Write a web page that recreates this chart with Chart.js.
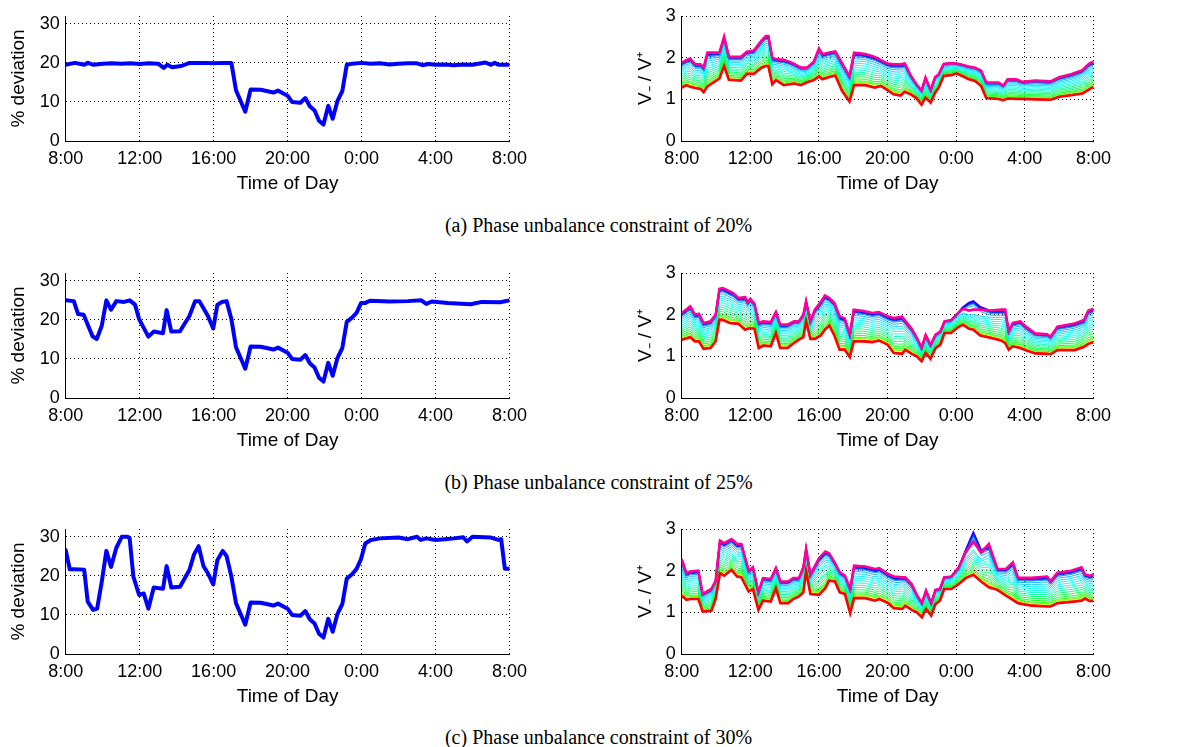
<!DOCTYPE html>
<html><head><meta charset="utf-8">
<script src="https://cdn.jsdelivr.net/npm/chart.js@4.4.1/dist/chart.umd.min.js"></script>
<style>
body{margin:0;background:#fff;}
#wrap{position:relative;width:1197px;height:747px;overflow:hidden;background:#fff;}
#wrap canvas{position:absolute;}
.cap{position:absolute;left:0;width:1197px;text-align:center;font-family:'Liberation Serif','Times New Roman',serif;font-size:20px;color:#000;line-height:22px;}
</style></head><body><div id="wrap">
<div class="cap" style="top:214px">(a) Phase unbalance constraint of 20%</div>
<div class="cap" style="top:471px">(b) Phase unbalance constraint of 25%</div>
<div class="cap" style="top:726px">(c) Phase unbalance constraint of 30%</div>
</div>
<script>
// ---------- tick labels ----------
const devTicks = [0, 10, 20, 30];
const ratioTicks = [0, 1, 2, 3];
const hourTicks = [0, 4, 8, 12, 16, 20, 24];          // hours after 8:00
const hourLabels = ['8:00', '12:00', '16:00', '20:00', '0:00', '4:00', '8:00'];
const xTitle = 'Time of Day';
const devTitle = '% deviation';
const ratioTitle = 'V\u208B / V\u207A';

// ---------- left panels: % deviation (hours after 8:00, value) ----------
const devA_t = [0,0.5,1,1.2,1.5,2,2.5,3,3.5,4,4.5,5,5.3,5.5,5.75,6.25,6.7,7.5,8,8.5,8.96,9.21,9.71,10.0,10.55,11.23,11.48,11.8,12.0,12.24,12.69,12.96,13.2,13.46,13.7,13.94,14.2,14.44,14.7,14.96,15.2,15.5,16,16.5,17,17.5,18,18.5,19,19.3,19.6,20,20.5,21,21.5,22,22.7,23,23.2,23.4,24];
const devA_v = [19.5,20.0,19.5,20.0,19.5,19.8,19.9,19.8,19.9,19.7,19.9,19.8,18.7,19.5,18.9,19.2,20.0,20.0,19.9,20.0,20.0,13.0,7.5,13.2,13.1,12.4,12.9,12.1,11.6,10.0,9.8,11.0,8.9,7.8,5.2,4.2,9.0,5.7,10.3,12.8,19.5,19.8,20.0,19.8,19.9,19.6,19.8,19.9,19.9,19.4,19.7,19.5,19.6,19.4,19.6,19.5,20.1,19.5,20.0,19.5,19.5];

const devB_t = [0,0.44,0.67,0.97,1.45,1.68,1.95,2.2,2.45,2.74,3.16,3.46,3.75,3.97,4.47,4.76,5.26,5.46,5.71,6.18,6.69,7.0,7.23,7.7,7.98,8.2,8.45,8.7,8.96,9.21,9.71,10.0,10.55,11.23,11.48,11.8,12.0,12.24,12.69,12.96,13.2,13.46,13.7,13.94,14.2,14.44,14.7,14.96,15.2,15.47,15.73,15.97,16.18,16.45,17.5,18.5,19.23,19.5,19.8,20.66,21.9,22.5,23.5,24];
const devB_v = [25.0,24.8,21.5,21.3,15.8,15.1,18.5,25.0,22.6,24.8,24.6,25.0,23.9,20.2,15.7,17.0,16.6,22.5,17.0,17.1,21.0,24.8,24.8,20.9,17.8,23.8,24.6,24.8,20.2,13.0,7.5,13.2,13.1,12.4,12.9,12.1,11.6,10.0,9.8,11.0,8.9,7.8,5.2,4.2,9.0,5.7,10.3,12.8,19.5,20.5,21.8,24.3,24.3,24.9,24.7,24.8,25.0,24.1,24.7,24.3,24.0,24.6,24.5,25.0];

const devC_t = [0,0.22,0.47,1.0,1.19,1.48,1.7,1.95,2.2,2.45,2.74,3.03,3.36,3.46,3.66,3.97,4.22,4.47,4.76,5.26,5.46,5.71,6.18,6.69,6.94,7.19,7.45,7.7,7.98,8.2,8.49,8.7,8.96,9.21,9.71,10.0,10.55,11.23,11.48,11.8,12.0,12.24,12.69,12.96,13.2,13.46,13.7,13.94,14.2,14.44,14.7,14.96,15.2,15.5,15.73,15.97,16.2,16.5,17,18,18.5,19,19.2,19.5,20,20.5,21,21.5,21.7,22,23,23.4,23.55,23.75,24];
const devC_v = [26.6,21.7,21.7,21.6,13.4,11.3,11.6,18.5,26.4,22.3,27.2,30.0,30.0,29.6,19.8,15.1,15.5,11.6,17.0,16.7,22.5,17.0,17.2,21.5,25.5,27.6,22.5,20.6,17.8,24.0,26.4,25.1,19.8,13.0,7.5,13.2,13.1,12.4,12.9,12.1,11.6,10.0,9.8,11.0,8.9,7.8,5.2,4.2,9.0,5.7,10.3,12.8,19.3,20.5,21.8,24.3,28.3,29.2,29.6,29.8,29.4,30.0,29.2,29.6,29.2,29.4,29.6,29.9,28.8,30.0,29.8,29.2,29.4,21.8,21.8];

// ---------- right panels: V-/V+ band (top = magenta edge, bot = red edge, blue = top of blue lines) ----------
const ratA_t = [0,0.27,0.5,0.78,1.1,1.28,1.5,2.2,2.47,2.75,3.45,3.8,4.2,4.65,4.9,5.05,5.28,5.5,5.95,6.3,6.55,6.95,7.3,7.7,8.0,8.2,8.55,8.95,9.35,9.78,10.05,10.7,11.25,11.6,12.0,12.35,12.75,13.0,13.35,13.68,13.98,14.21,14.51,14.77,14.98,15.27,15.7,16.02,16.35,16.7,17.1,17.45,17.75,18.45,18.75,19.0,19.5,19.85,20.6,21.5,22.0,22.7,23.35,23.75,24];
const ratA_top = [1.88,1.94,1.98,1.84,1.84,1.76,2.12,2.12,2.50,2.02,2.02,2.14,2.17,2.41,2.52,2.52,2.00,1.96,1.95,1.90,1.85,1.76,1.76,1.90,2.22,2.08,2.12,2.15,1.86,1.55,2.12,2.09,2.02,1.94,1.86,1.84,1.84,1.86,1.57,1.36,1.21,1.52,1.22,1.53,1.60,1.85,1.87,1.86,1.83,1.79,1.76,1.69,1.40,1.40,1.33,1.48,1.48,1.42,1.45,1.43,1.53,1.60,1.70,1.86,1.90];
const ratA_bot = [1.28,1.34,1.30,1.27,1.25,1.17,1.31,1.50,1.80,1.47,1.45,1.61,1.61,1.76,1.80,1.80,1.36,1.46,1.34,1.36,1.38,1.34,1.41,1.46,1.55,1.48,1.53,1.57,1.20,0.95,1.34,1.34,1.28,1.32,1.22,1.12,1.09,1.18,1.12,1.03,0.87,1.04,0.92,1.16,1.28,1.56,1.58,1.62,1.56,1.49,1.44,1.32,1.03,1.01,0.98,1.02,1.01,1.01,1.00,0.99,1.06,1.10,1.14,1.24,1.30];
const ratA_blue = ratA_top;

const ratB_t = [0,0.5,0.77,1.0,1.27,1.68,1.98,2.2,2.4,2.8,3.0,3.3,3.7,3.85,4.0,4.24,4.49,4.75,5.19,5.49,5.74,6.16,6.55,6.83,7.09,7.25,7.5,7.76,8.1,8.35,8.6,8.9,9.2,9.5,9.8,10.03,10.6,11.1,11.5,12.0,12.36,12.85,13.03,13.4,13.7,13.98,14.22,14.5,14.8,15.08,15.32,15.7,16.05,16.38,16.75,17.0,17.4,18.05,18.6,18.85,19.06,19.3,19.73,20.1,20.6,21.3,21.5,21.9,22.9,23.45,23.7,24];
const ratB_top = [2.04,2.20,2.00,2.02,1.80,1.84,2.00,2.62,2.64,2.56,2.52,2.40,2.42,2.30,2.38,2.26,1.80,1.84,1.82,2.06,1.76,1.76,1.84,1.84,2.00,2.32,1.84,2.12,2.30,2.46,2.40,2.28,1.96,1.91,1.52,2.12,2.09,2.04,2.06,1.96,1.92,1.95,1.85,1.66,1.45,1.20,1.51,1.27,1.52,1.60,1.84,1.87,2.02,2.14,2.10,2.12,2.12,2.10,2.12,2.12,1.60,1.80,1.84,1.70,1.55,1.53,1.47,1.71,1.79,1.87,2.10,2.14];
const ratB_bot = [1.40,1.46,1.36,1.36,1.18,1.20,1.36,1.88,1.87,1.80,1.79,1.78,1.64,1.66,1.68,1.66,1.20,1.26,1.24,1.56,1.20,1.20,1.32,1.40,1.46,1.84,1.42,1.42,1.50,1.64,1.74,1.50,1.16,1.16,0.98,1.36,1.36,1.34,1.38,1.28,1.08,1.06,1.16,1.06,1.00,0.88,1.08,0.94,1.20,1.28,1.56,1.56,1.68,1.76,1.66,1.64,1.50,1.44,1.38,1.32,1.16,1.24,1.20,1.14,1.07,1.06,1.05,1.15,1.15,1.23,1.30,1.34];
const ratB_blue = [2.04,2.20,2.00,2.02,1.80,1.84,2.00,2.62,2.64,2.56,2.52,2.40,2.42,2.30,2.38,2.26,1.80,1.84,1.82,2.06,1.76,1.76,1.84,1.84,2.00,2.32,1.84,2.12,2.30,2.46,2.40,2.28,1.96,1.91,1.52,2.12,2.09,2.04,2.06,1.96,1.92,1.95,1.85,1.66,1.45,1.20,1.51,1.27,1.52,1.60,1.84,1.87,2.02,2.18,2.30,2.34,2.20,2.10,2.12,2.12,1.60,1.80,1.84,1.70,1.55,1.53,1.47,1.71,1.79,1.87,2.10,2.14];

const ratC_t = [0,0.27,0.5,0.97,1.22,1.73,1.98,2.23,2.48,2.9,3.23,3.48,3.9,4.15,4.47,4.74,5.19,5.49,5.75,6.2,6.5,6.83,7.09,7.25,7.5,8.0,8.37,8.59,8.93,9.21,9.51,9.82,10.05,10.69,11.27,11.52,12.03,12.36,12.86,13.03,13.4,13.7,14.0,14.24,14.54,14.79,15.05,15.3,15.71,16.15,16.55,17.0,17.45,17.9,18.4,18.9,19.3,19.6,20.4,21.3,21.5,21.9,22.7,23.3,23.5,23.8,24];
const ratC_top = [2.28,1.94,1.98,2.00,1.44,1.56,1.76,2.72,2.66,2.76,2.64,2.64,2.00,2.08,1.48,1.82,1.80,2.06,1.74,1.74,1.82,1.82,2.08,2.52,1.90,2.30,2.46,2.42,2.18,1.96,1.88,1.56,2.12,2.10,2.04,2.06,1.92,1.86,1.84,1.84,1.68,1.42,1.22,1.52,1.22,1.54,1.56,1.84,1.86,2.08,2.44,2.70,2.44,2.64,2.04,2.04,2.20,1.83,1.83,1.86,1.75,1.95,2.00,2.08,1.91,1.88,1.91];
const ratC_bot = [1.40,1.30,1.32,1.32,1.02,1.04,1.32,1.94,1.88,2.02,1.86,1.84,1.50,1.56,1.06,1.28,1.26,1.58,1.22,1.22,1.32,1.38,1.48,1.98,1.44,1.42,1.58,1.76,1.74,1.48,1.44,0.98,1.34,1.34,1.28,1.32,1.22,1.10,1.08,1.16,1.06,1.00,0.88,1.08,0.92,1.20,1.28,1.56,1.56,1.68,1.82,1.90,1.74,1.60,1.54,1.40,1.30,1.22,1.16,1.14,1.14,1.22,1.25,1.28,1.33,1.27,1.28];
const ratC_blue = [2.28,1.94,1.98,2.00,1.44,1.56,1.76,2.72,2.66,2.76,2.64,2.64,2.00,2.08,1.48,1.82,1.80,2.06,1.74,1.74,1.82,1.82,2.08,2.52,1.90,2.30,2.46,2.42,2.18,1.96,1.88,1.56,2.12,2.10,2.04,2.06,1.92,1.86,1.84,1.84,1.68,1.42,1.22,1.52,1.22,1.54,1.56,1.84,1.86,2.08,2.50,2.94,2.50,2.62,2.04,2.04,2.20,1.83,1.83,1.86,1.75,1.95,2.00,2.08,1.91,1.88,1.91];

const lineHue   = [0, 15, 30, 45, 60, 80, 100, 115, 125, 135, 145, 155, 165, 172, 178, 184, 190, 198, 210, 225, 240, 260, 280, 300, 325];
const lineLevel = [0, 0.01, 0.02, 0.03, 0.045, 0.065, 0.09, 0.13, 0.19, 0.26, 0.33, 0.40, 0.47, 0.54, 0.61, 0.68, 0.75, 0.82, 0.88, 0.92, 0.95, 0.97, 0.98, 0.99, 1.0];

// ---------- layout ----------
Chart.defaults.font.family = "'Liberation Sans', Arial, Helvetica, sans-serif";
Chart.defaults.color = '#000';
const wrap = document.getElementById('wrap');
const rowTops = [16, 273, 529];
const PAD_TOP = 18, PLOT_H = 125, XAX_H = 54;

function makeCanvas(left, top, w, h) {
  const c = document.createElement('canvas');
  c.width = w; c.height = h;
  c.style.left = left + 'px'; c.style.top = top + 'px';
  c.style.width = w + 'px'; c.style.height = h + 'px';
  wrap.appendChild(c);
  return c.getContext('2d');
}

function xAxis() {
  return {
    type: 'linear', min: 0, max: 24,
    afterBuildTicks: s => { s.ticks = hourTicks.map(v => ({ value: v })); },
    afterFit: s => { s.height = XAX_H; },
    ticks: { autoSkip: false, maxRotation: 0, padding: 7, font: { size: 18 }, color: '#000',
             callback: v => hourLabels[hourTicks.indexOf(v)] },
    grid: { color: '#000', lineWidth: 1, drawTicks: false },
    border: { display: true, color: '#000', width: 1, dash: [1, 3] },
    title: { display: true, text: xTitle, font: { size: 19 }, color: '#000', padding: { top: 0, bottom: 0 } }
  };
}
function yAxis(min, max, ticks, title, width, titlePad) {
  return {
    type: 'linear', min, max,
    afterBuildTicks: s => { s.ticks = ticks.map(v => ({ value: v })); },
    afterFit: s => { s.width = width; },
    ticks: { padding: 6, font: { size: 18 }, color: '#000' },
    grid: { color: '#000', lineWidth: 1, drawTicks: false },
    border: { display: true, color: '#000', width: 1, dash: [1, 3] },
    title: { display: true, text: title, font: { size: 19 }, color: '#000', padding: { top: titlePad, bottom: 0 } }
  };
}
const baseOpts = {
  responsive: false, animation: false, devicePixelRatio: 1,
  plugins: { legend: { display: false }, tooltip: { enabled: false } },
  elements: { point: { radius: 0 }, line: { tension: 0 } }
};

function leftChart(row, t, v) {
  const ctx = makeCanvas(0, rowTops[row] - PAD_TOP, 534, PAD_TOP + PLOT_H + XAX_H);
  new Chart(ctx, {
    type: 'line',
    data: { datasets: [{ data: t.map((x, i) => ({ x, y: v[i] })), borderColor: '#0000ff', borderWidth: 4,
                         borderJoinStyle: 'round', borderCapStyle: 'round', fill: false }] },
    options: Object.assign({}, baseOpts, {
      layout: { padding: { top: PAD_TOP, right: 22, bottom: 0, left: 0 } },
      scales: { x: xAxis(), y: yAxis(0, 32, devTicks, devTitle, 65.7, 7.6) }
    })
  });
}

function rightChart(row, t, top, bot, blue) {
  const ctx = makeCanvas(610, rowTops[row] - PAD_TOP, 508, PAD_TOP + PLOT_H + XAX_H);
  const last = lineLevel.length - 1;
  const datasets = lineLevel.map((lev, k) => {
    const hue = lineHue[k];
    const upper = (hue >= 198 && hue <= 285) ? blue : top;
    const edge = (k === 0 || k === last);
    const blueEdge = (hue >= 240 && hue <= 300);
    const nearEdge = (hue === 225) || hue <= 30;
    return {
      data: t.map((x, i) => ({ x, y: bot[i] + lev * (upper[i] - bot[i]) })),
      borderColor: `hsl(${hue},100%,50%)`,
      borderWidth: edge ? 2.6 : (blueEdge ? 1.9 : (nearEdge ? 1.3 : 0.9)),
      order: edge ? 0 : (hue >= 198 ? 1 : 2),
      fill: false
    };
  });
  new Chart(ctx, {
    type: 'line',
    data: { datasets },
    options: Object.assign({}, baseOpts, {
      layout: { padding: { top: PAD_TOP, right: 21.7, bottom: 0, left: 0 } },
      scales: { x: xAxis(), y: yAxis(0, 3, ratioTicks, ratioTitle, 71.7, 24.6) }
    })
  });
}

leftChart(0, devA_t, devA_v);
leftChart(1, devB_t, devB_v);
leftChart(2, devC_t, devC_v);
rightChart(0, ratA_t, ratA_top, ratA_bot, ratA_blue);
rightChart(1, ratB_t, ratB_top, ratB_bot, ratB_blue);
rightChart(2, ratC_t, ratC_top, ratC_bot, ratC_blue);
</script>
</body></html>
